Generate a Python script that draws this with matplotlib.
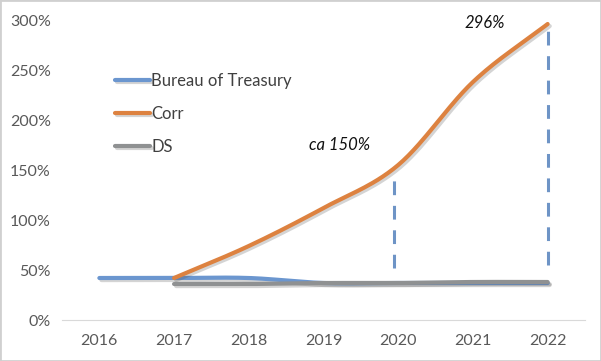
import numpy as np
import matplotlib
matplotlib.use("Agg")
import matplotlib.pyplot as plt
import matplotlib.patheffects as pe
from matplotlib.patches import Rectangle

plt.rcParams['font.family'] = ['Lato', 'DejaVu Sans']

years = [2016, 2017, 2018, 2019, 2020, 2021, 2022]
treasury_years = [2016, 2017, 2018, 2019, 2020, 2021, 2022]
treasury = [0.42, 0.42, 0.42, 0.37, 0.37, 0.37, 0.37]
corr_years = [2017, 2018, 2019, 2020, 2021, 2022]
corr = [0.42, 0.74, 1.12, 1.55, 2.38, 2.96]
ds_years = [2017, 2018, 2019, 2020, 2021, 2022]
ds = [0.36, 0.36, 0.37, 0.37, 0.38, 0.38]

drop_years = [2019.95, 2022]
drop_low = [0.52, 0.55]
drop_high = [1.42, 2.92]

notes = ["ca 150%", "296%"]
note_x = [2019.22, 2021.16]
note_y = [1.75, 2.97]

yticks = [0, 0.5, 1.0, 1.5, 2.0, 2.5, 3.0]


def smooth(x, y, n=30):
    # catmull-rom style smoothing like Excel "smoothed line"
    x = np.asarray(x, float)
    y = np.asarray(y, float)
    if len(x) < 3:
        return x, y
    px = np.concatenate([[2 * x[0] - x[1]], x, [2 * x[-1] - x[-2]]])
    py = np.concatenate([[2 * y[0] - y[1]], y, [2 * y[-1] - y[-2]]])
    xs, ys = [], []
    t = np.linspace(0, 1, n)
    for i in range(1, len(px) - 2):
        for P, out in ((px, xs), (py, ys)):
            p0, p1, p2, p3 = P[i - 1], P[i], P[i + 1], P[i + 2]
            out.extend(0.5 * (2 * p1 + (-p0 + p2) * t
                              + (2 * p0 - 5 * p1 + 4 * p2 - p3) * t ** 2
                              + (-p0 + 3 * p1 - 3 * p2 + p3) * t ** 3))
    return np.array(xs), np.array(ys)


fig = plt.figure(figsize=(6.01, 3.61), dpi=100)
ax = fig.add_axes([62 / 601, 41 / 361, 523 / 601, 300 / 361])

shadow = [pe.SimpleLineShadow(offset=(1.5, -1.5), alpha=0.25, shadow_color='#555555'), pe.Normal()]

for xs, ys, c, lab in ((treasury_years, treasury, '#6B96CF', 'Bureau of Treasury'),
                       (corr_years, corr, '#DD8240', 'Corr'),
                       (ds_years, ds, '#8F9192', 'DS')):
    sx, sy = smooth(xs, ys)
    ax.plot(sx, sy, color=c, lw=3, solid_capstyle='round', label=lab, path_effects=shadow)

ax.vlines(drop_years, drop_low, drop_high, colors='#6E94C6', lw=2.2,
          linestyles=(0, (4.5, 3.5)))

for t, x, y in zip(notes, note_x, note_y):
    ax.text(x, y, t, style='italic', fontsize=12, color='#111111', ha='center', va='center')

ax.set_xlim(2015.5, 2022.5)
ax.set_ylim(0, 3.0)
ax.set_xticks(years)
ax.set_yticks(yticks)
ax.set_yticklabels(['%d%%' % round(v * 100) for v in yticks])
ax.tick_params(length=0, labelsize=11.5, colors='#595959', pad=8)
ax.tick_params(axis='x', pad=10)
for s in ['top', 'right', 'left']:
    ax.spines[s].set_visible(False)
ax.spines['bottom'].set_color('#D9D9D9')

leg = ax.legend(loc='upper left', bbox_to_anchor=(0.088, 0.845), frameon=False, fontsize=12,
                handlelength=2.1, handletextpad=0.1, labelspacing=1.0, borderaxespad=0)
for t in leg.get_texts():
    t.set_color('#404040')

fig.patches.append(Rectangle((0, 0), 1, 1, transform=fig.transFigure, fill=False,
                             edgecolor='#D0D0D0', lw=2))

fig.savefig('out.png', dpi=100)
